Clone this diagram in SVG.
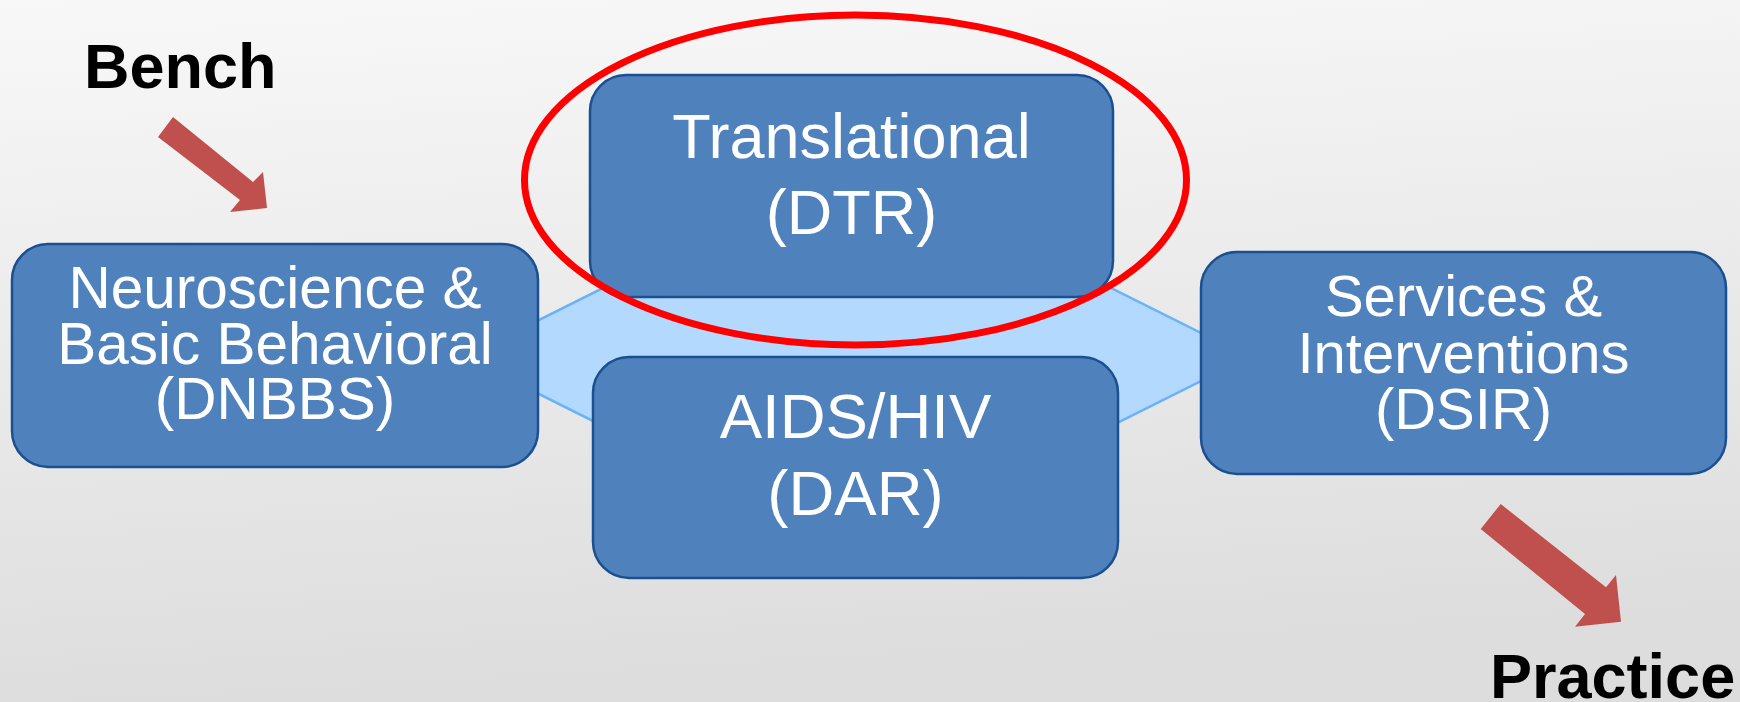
<svg xmlns="http://www.w3.org/2000/svg" width="1740" height="702" viewBox="0 0 1740 702">
  <defs>
    <linearGradient id="bg" x1="0" y1="0" x2="0.15" y2="1">
      <stop offset="0" stop-color="#F8F8F8"/>
      <stop offset="1" stop-color="#DDDDDD"/>
    </linearGradient>
  </defs>
  <style>
    .node { fill: #4F81BD; stroke: #1A5091; stroke-width: 2.5; }
    .lbl { font-family: "Liberation Sans", Arial, sans-serif; fill: #FFFFFF; text-anchor: middle; }
    .side { font-family: "Liberation Sans", Arial, sans-serif; font-weight: bold; fill: #000000; font-size: 63px; }
    .conn { fill: #B3D9FE; stroke: #6BB3F7; stroke-width: 2.5; }
    .arrow { fill: #C0504D; }
  </style>
  <rect x="0" y="0" width="1740" height="702" fill="url(#bg)"/>

  <g id="connectors">
    <polygon class="conn" points="465,357 857,161 1249,357 857,553"/>
  </g>

  <g id="node-dnbbs">
    <rect class="node" x="12" y="244" width="526" height="223" rx="36" ry="36"/>
    <text class="lbl" font-size="58.5" x="275" y="308">Neuroscience &amp;</text>
    <text class="lbl" font-size="58.5" x="275" y="364">Basic Behavioral</text>
    <text class="lbl" font-size="58.5" x="275" y="419">(DNBBS)</text>
  </g>

  <g id="node-dtr">
    <rect class="node" x="590" y="75" width="523" height="222" rx="36" ry="36"/>
    <text class="lbl" font-size="63" x="851.5" y="158">Translational</text>
    <text class="lbl" font-size="63" x="851.5" y="234">(DTR)</text>
  </g>

  <g id="node-dar">
    <rect class="node" x="593" y="357" width="525" height="221" rx="36" ry="36"/>
    <text class="lbl" font-size="63.5" x="855.5" y="438">AIDS/HIV</text>
    <text class="lbl" font-size="63.5" x="855.5" y="515">(DAR)</text>
  </g>

  <g id="node-dsir">
    <rect class="node" x="1201" y="252" width="525" height="222" rx="36" ry="36"/>
    <text class="lbl" font-size="58" x="1463.5" y="316">Services &amp;</text>
    <text class="lbl" font-size="58" x="1463.5" y="373">Interventions</text>
    <text class="lbl" font-size="58" x="1463.5" y="429">(DSIR)</text>
  </g>

  <g id="highlight">
    <ellipse cx="855.5" cy="180" rx="331" ry="165" fill="none" stroke="#FF0000" stroke-width="7"/>
  </g>

  <g id="bench">
    <polygon class="arrow" points="173,117 253,182 263,172 267,208 230,212 240,200 158,137"/>
    <text class="side" x="84" y="88">Bench</text>
  </g>

  <g id="practice">
    <polygon class="arrow" points="1500.7,504 1606,587.3 1616,575 1621,621.7 1575,626.7 1585,614 1480.7,529"/>
    <text class="side" font-size="64" x="1490" y="698">Practice</text>
  </g>
</svg>
